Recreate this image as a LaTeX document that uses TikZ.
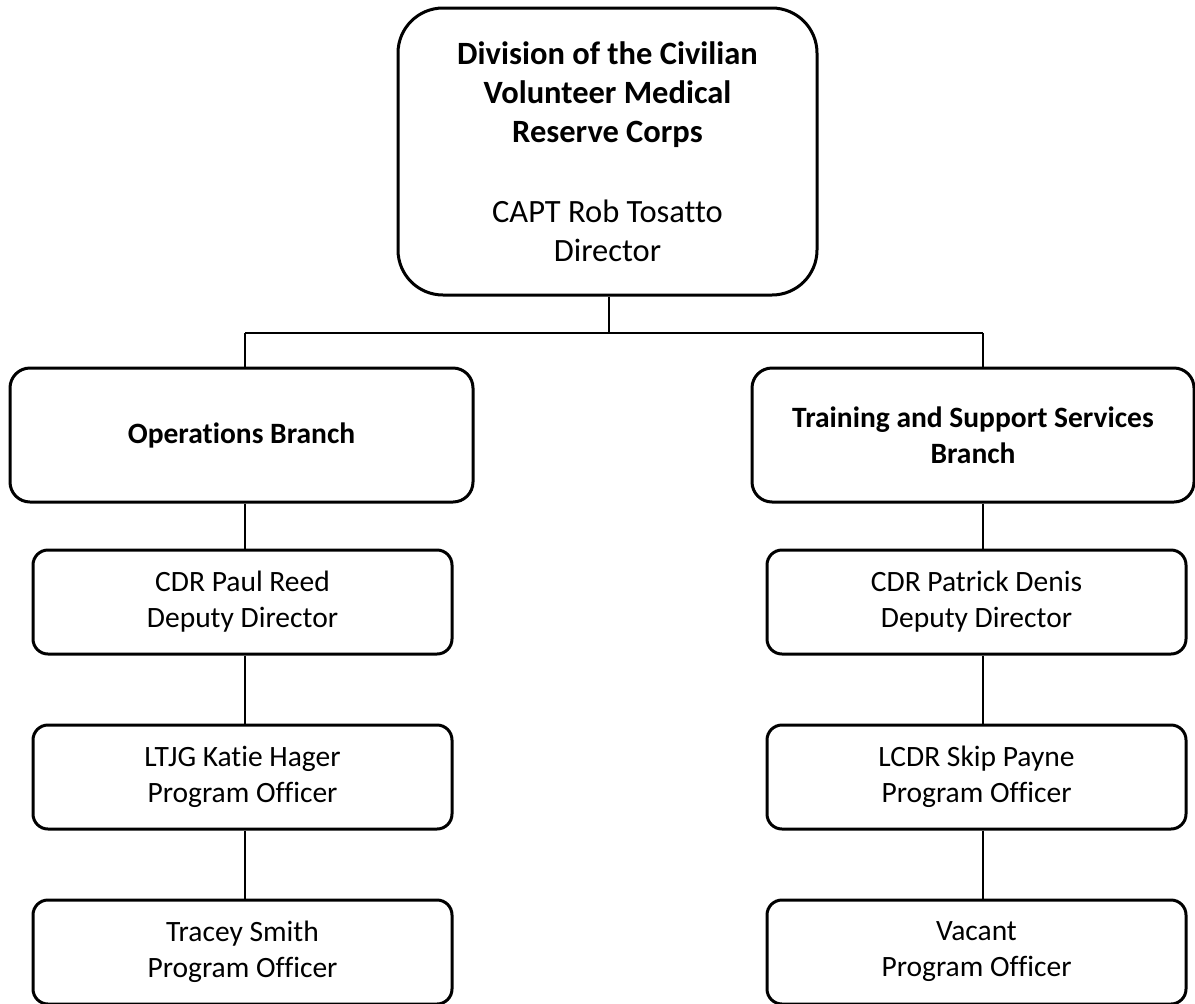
\documentclass[tikz,border=0pt]{standalone}
\usepackage{fontspec}
\setmainfont[Ligatures=NoCommon]{Carlito}
\usetikzlibrary{positioning}

\begin{document}
\begin{tikzpicture}[x=0.6pt,y=-0.6pt,node distance=105pt,on grid,
	orgbox/.style={draw,line width=1.8pt,align=center,inner sep=0pt,
		font=\fontsize{17.7}{21.6}\selectfont},
	headbox/.style={orgbox,rounded corners=27pt,minimum width=251.4pt,minimum height=172.2pt,
		font=\fontsize{19.5}{23.4}\selectfont},
	branchbox/.style={orgbox,rounded corners=12pt,minimum height=80.4pt},
	staffbox/.style={orgbox,rounded corners=9pt,minimum width=251.4pt,minimum height=62.4pt},
	link/.style={line width=1.5pt}]
	\useasboundingbox (0,0) rectangle (1195,1003);
	% top of the chart
	\node[headbox] (dir) at (607.5,151.5) {\textbf{Division of the Civilian}\\\textbf{Volunteer Medical}\\\textbf{Reserve Corps}\\[24.6pt]CAPT Rob Tosatto\\Director};
	% branches
	\node[branchbox,minimum width=277.8pt] (ops) at (241.5,435) {\textbf{Operations Branch}};
	\node[branchbox,minimum width=265.2pt] (tss) at (973,435) {\textbf{Training and Support Services}\\\textbf{Branch}};
	% staff, left
	\node[staffbox] (reed) at (242.5,602) {CDR Paul Reed\\Deputy Director};
	\node[staffbox] (hager) [below=of reed] {LTJG Katie Hager\\Program Officer};
	\node[staffbox] (smith) [below=of hager] {Tracey Smith\\Program Officer};
	% staff, right
	\node[staffbox] (denis) at (976.5,602) {CDR Patrick Denis\\Deputy Director};
	\node[staffbox] (payne) [below=of denis] {LCDR Skip Payne\\Program Officer};
	\node[staffbox] (vacant) [below=of payne] {Vacant\\Program Officer};
	% connectors
	\coordinate (busT) at (609,333);
	\coordinate (busL) at (245,333);
	\coordinate (busR) at (983,333);
	\draw[link] (dir.south -| busT) -- (busT);
	\draw[link] (busL) -- (busR);
	\draw[link] (busL) -- (busL |- ops.north);
	\draw[link] (busR) -- (busR |- tss.north);
	\draw[link] (ops.south -| busL) -- (reed.north -| busL);
	\draw[link] (reed.south -| busL) -- (hager.north -| busL);
	\draw[link] (hager.south -| busL) -- (smith.north -| busL);
	\draw[link] (tss.south -| busR) -- (denis.north -| busR);
	\draw[link] (denis.south -| busR) -- (payne.north -| busR);
	\draw[link] (payne.south -| busR) -- (vacant.north -| busR);
\end{tikzpicture}
\end{document}
